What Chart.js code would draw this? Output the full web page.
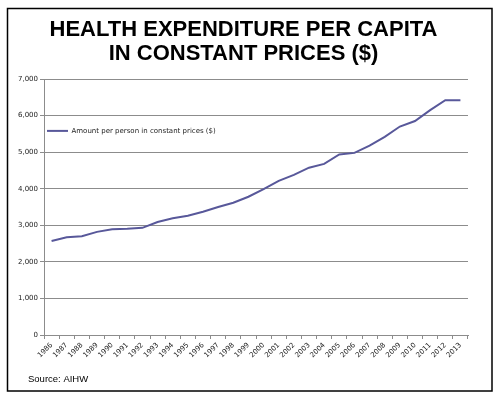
<!DOCTYPE html>
<html>
<head>
<meta charset="utf-8">
<script src="https://cdn.jsdelivr.net/npm/chart.js@4.4.1/dist/chart.umd.min.js"></script>
<style>
  html, body { margin: 0; padding: 0; background: #fff; }
  #wrap { width: 500px; height: 399px; position: relative; }
</style>
</head>
<body>
<div id="wrap"><canvas id="healthChart" width="500" height="399"></canvas></div>
<script>
// years on the x axis
const years = ['1986', '1987', '1988', '1989', '1990', '1991', '1992', '1993', '1994', '1995',
    '1996', '1997', '1998', '1999', '2000', '2001', '2002', '2003', '2004', '2005',
    '2006', '2007', '2008', '2009', '2010', '2011', '2012', '2013'];

// amount per person in constant prices ($)
const amountPerPerson = [2570, 2670, 2700, 2820, 2890, 2905, 2930, 3090, 3190, 3260,
    3370, 3500, 3615, 3780, 3990, 4215, 4380, 4575, 4680, 4937,
    4980, 5180, 5420, 5700, 5850, 6150, 6420, 6420];

const seriesLabel = 'Amount per person in constant prices ($)';
const titleLines = ['HEALTH EXPENDITURE PER CAPITA', 'IN CONSTANT PRICES ($)'];
const sourceText = 'Source: AIHW';

const tickFont = { family: 'DejaVu Sans', size: 7 };

// frame round the whole picture and the source note under the axis
const framePlugin = {
    id: 'frame',
    afterDraw: function (chart) {
        const ctx = chart.ctx;
        ctx.save();
        ctx.strokeStyle = '#000';
        ctx.lineWidth = 1.5;
        ctx.strokeRect(7.5, 8.5, 484.5, 382.5);
        ctx.fillStyle = '#000';
        ctx.font = '9.5px "Liberation Sans", Arial, sans-serif';
        ctx.textBaseline = 'middle';
        ctx.textAlign = 'left';
        ctx.fillText(sourceText, 28, 379);
        ctx.restore();
    }
};

const ctx = document.getElementById('healthChart').getContext('2d');
new Chart(ctx, {
    type: 'line',
    data: {
        labels: years,
        datasets: [{
            label: seriesLabel,
            data: amountPerPerson,
            borderColor: '#58589a',
            backgroundColor: '#58589a',
            borderWidth: 2,
            pointRadius: 0,
            tension: 0,
            fill: false
        }]
    },
    options: {
        responsive: false,
        animation: false,
        layout: {
            padding: { left: 0, right: 13, top: 0, bottom: 0 }
        },
        plugins: {
            title: {
                display: true,
                text: titleLines,
                color: '#000',
                font: { family: 'Liberation Sans', size: 22, weight: 'bold', lineHeight: 1.1 },
                padding: { top: 18, bottom: 12.6 }
            },
            legend: {
                position: 'chartArea',
                align: 'start',
                // empty legend title, only pushes the key down into the plot
                title: {
                    display: true,
                    text: '',
                    font: { size: 7 },
                    padding: { top: 0, bottom: 116 }
                },
                labels: {
                    usePointStyle: true,
                    pointStyle: 'line',
                    pointStyleWidth: 21,
                    padding: 3,
                    color: '#222',
                    font: tickFont
                }
            },
            tooltip: { enabled: false }
        },
        scales: {
            x: {
                type: 'category',
                offset: true,
                grid: {
                    offset: true,
                    drawOnChartArea: false,
                    drawTicks: true,
                    tickLength: 4,
                    color: '#8c8c8c'
                },
                border: { color: '#8c8c8c', width: 1 },
                ticks: {
                    minRotation: 45,
                    maxRotation: 45,
                    autoSkip: false,
                    padding: 2,
                    color: '#222',
                    font: tickFont
                },
                afterFit: function (scale) {
                    scale.height = 64;
                }
            },
            y: {
                min: 0,
                max: 7000,
                grid: {
                    color: '#8c8c8c',
                    tickLength: 4
                },
                border: { color: '#8c8c8c', width: 1 },
                ticks: {
                    stepSize: 1000,
                    padding: 2,
                    color: '#222',
                    font: tickFont,
                    callback: function (value) {
                        return value.toLocaleString('en-US');
                    }
                },
                afterFit: function (scale) {
                    scale.width = 44;
                }
            },
            // empty right-hand axis, only keeps the title centred over the frame
            spacer: {
                type: 'linear',
                position: 'right',
                display: true,
                grid: { display: false },
                border: { display: false },
                ticks: { display: false },
                afterFit: function (scale) {
                    scale.width = 19;
                }
            }
        }
    },
    plugins: [framePlugin]
});
</script>
</body>
</html>
